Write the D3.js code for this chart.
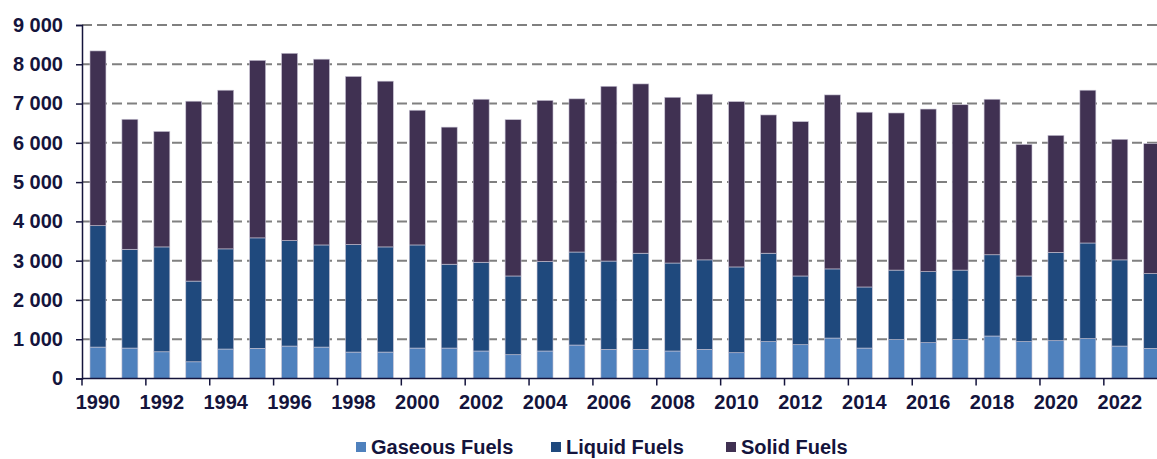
<!DOCTYPE html>
<html>
<head>
<meta charset="utf-8">
<script src="https://cdn.jsdelivr.net/npm/d3@7"></script>
<style>
  body { margin: 0; background: #fff; overflow: hidden; }
  svg { display: block; }
  text { font-family: "Liberation Sans", Arial, sans-serif; font-weight: bold; fill: #14143c; }
</style>
</head>
<body>
<div id="chart"></div>
<script>
'use strict';

// values (emissions, stacked)
var years   = d3.range(1990, 2024);
var gaseous = [800, 775, 680, 425, 750, 767, 826, 800, 673, 673,
               775, 775, 700, 605, 700, 852, 741, 741, 700, 741,
               656, 937, 860, 1030, 775, 988, 911, 988, 1082, 937,
               962, 1014, 826, 767];
var liquid  = [3090, 2515, 2670, 2055, 2550, 2813, 2684, 2600, 2737, 2677,
               2625, 2135, 2260, 2005, 2280, 2368, 2249, 2449, 2240, 2279,
               2184, 2253, 1750, 1760, 1555, 1772, 1809, 1772, 2068, 1673,
               2248, 2436, 2194, 1903];
var solid   = [4450, 3310, 2940, 4580, 4040, 4520, 4770, 4730, 4280, 4220,
               3430, 3490, 4150, 3980, 4100, 3900, 4450, 4310, 4220, 4220,
               4210, 3520, 3930, 4430, 4450, 4000, 4140, 4210, 3960, 3350,
               2980, 3890, 3070, 3310];
var seriesNames  = ["Gaseous Fuels", "Liquid Fuels", "Solid Fuels"];
var seriesColors = ["#4f81bd", "#1f497d", "#403152"];
var yTicks = d3.range(0, 9001, 1000);

var width  = 1157,
    height = 459,
    margin = {top: 25, left: 82, bottom: 81},
    plotRight = 1167.7;   // plot runs past the window edge, last bar is clipped

var rows = years.map(function(y, i) {
    return {year: y, gas: gaseous[i], liq: liquid[i], sol: solid[i]};
});
var stack = d3.stack().keys(["gas", "liq", "sol"])(rows);

var x = d3.scaleBand()
    .domain(years)
    .range([margin.left, plotRight])
    .paddingInner(0.5)
    .paddingOuter(0.25);

var y = d3.scaleLinear()
    .domain([0, 9000])
    .range([height - margin.bottom + 0.5, margin.top]);

var svg = d3.select("#chart").append("svg")
    .attr("width", width)
    .attr("height", height);

// dashed grid
svg.append("g")
    .selectAll("line")
    .data(yTicks.slice(1))
    .enter().append("line")
        .attr("x1", margin.left)
        .attr("x2", width)
        .attr("y1", function(d){ return y(d); })
        .attr("y2", function(d){ return y(d); })
        .attr("stroke", "#808080")
        .attr("stroke-width", 2)
        .attr("stroke-dasharray", "10,5");

// bars
svg.append("g")
    .selectAll("g")
    .data(stack)
    .enter().append("g")
        .attr("fill", function(d, i){ return seriesColors[i]; })
    .selectAll("rect")
    .data(function(d){ return d; })
    .enter().append("rect")
        .attr("x", function(d){ return x(d.data.year); })
        .attr("width", x.bandwidth())
        .attr("y", function(d){ return y(d[1]); })
        .attr("height", function(d){ return y(d[0]) - y(d[1]); })
        .attr("stroke", "#c8c4d4")
        .attr("stroke-width", 0.6);

// y axis
var yAxis = svg.append("g")
    .attr("transform", "translate(" + margin.left + ",0)")
    .call(d3.axisLeft(y).tickValues(yTicks).tickSize(6).tickPadding(13)
        .tickFormat(function(d){ return d3.format(",")(d).replace(",", " "); }));
yAxis.selectAll("text").style("font-size", "20px");
yAxis.select(".domain").attr("stroke", "#14143c").attr("stroke-width", 1.5);
yAxis.selectAll(".tick line").attr("stroke", "#14143c").attr("stroke-width", 1.5);

// x axis: ticks on category boundaries, labels every other year
var xAxisY = y(0);
var labelYears = years.filter(function(d){ return (d - 1990) % 2 === 0; });
var xg = svg.append("g");
xg.append("line")
    .attr("x1", margin.left).attr("x2", width)
    .attr("y1", xAxisY).attr("y2", xAxisY)
    .attr("stroke", "#14143c").attr("stroke-width", 1.5);
xg.selectAll("line.tick")
    .data(labelYears)
    .enter().append("line")
        .attr("class", "tick")
        .attr("x1", function(d){ return x(d) - x.bandwidth() / 2; })
        .attr("x2", function(d){ return x(d) - x.bandwidth() / 2; })
        .attr("y1", xAxisY).attr("y2", xAxisY + 7)
        .attr("stroke", "#14143c").attr("stroke-width", 1.5);
xg.selectAll("text")
    .data(labelYears)
    .enter().append("text")
        .attr("x", function(d){ return x(d) + x.bandwidth() / 2; })
        .attr("y", 409)
        .attr("text-anchor", "middle")
        .style("font-size", "20px")
        .text(function(d){ return d; });

// legend (sits at the very bottom, as in the original)
var legendX = [356, 551, 726];
var legend = svg.append("g").selectAll("g")
    .data(seriesNames)
    .enter().append("g")
        .attr("transform", function(d, i){ return "translate(" + legendX[i] + ",442)"; });
legend.append("rect")
    .attr("width", 10).attr("height", 10)
    .attr("fill", function(d, i){ return seriesColors[i]; });
legend.append("text")
    .attr("x", 15).attr("y", 12)
    .style("font-size", "20px")
    .text(function(d){ return d; });
</script>
</body>
</html>
